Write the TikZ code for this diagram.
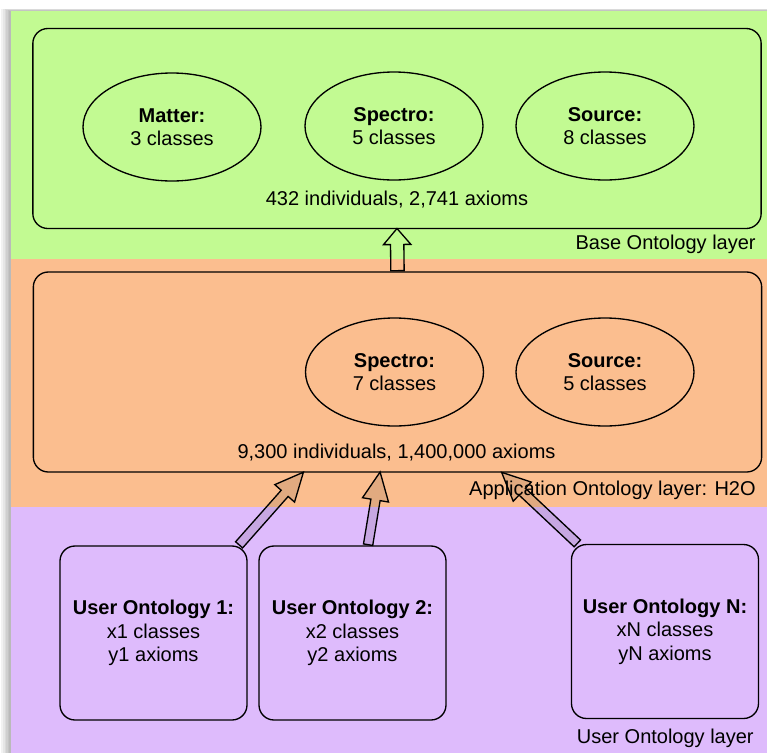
\documentclass[tikz,border=0pt]{standalone}
\usepackage{fontspec}
\setmainfont{Liberation Sans}
\usetikzlibrary{shapes.geometric,shapes.arrows,calc,positioning}

\definecolor{basegreen}{RGB}{194,250,146}
\definecolor{apporange}{RGB}{251,190,143}
\definecolor{userpurple}{RGB}{222,187,252}

% block arrow from #2 (tail) to #3 (tip)
\newcommand{\hollowarrow}[3]{%
    \path let \p1=($(#3)-(#2)$), \n1={atan2(\y1,\x1)}, \n2={veclen(\x1,\y1)} in
        node[#1, anchor=tail, rotate=\n1, minimum height=\n2] at (#2) {};}

\begin{document}
\begin{tikzpicture}[x=0.6pt, y=-0.6pt, font=\fontsize{12}{14}\selectfont]
    \tikzstyle{layerbox} = [draw, thick, rounded corners=9pt, minimum width=437pt, minimum height=120pt]
    \tikzstyle{partellipse} = [draw, thick, ellipse, minimum width=106.8pt, minimum height=64.8pt, align=center]
    \tikzstyle{userbox} = [draw, thick, rounded corners=9pt, minimum width=112.2pt, minimum height=104.4pt, align=center]
    \tikzstyle{layertag} = [anchor=base east, inner sep=0pt]
    \tikzstyle{uparrow} = [single arrow, draw, thick, inner sep=0pt, inner ysep=3.6pt, minimum width=15.6pt, single arrow head extend=4.2pt, single arrow tip angle=81]
    \tikzstyle{userarrow} = [single arrow, draw, thick, fill=black, fill opacity=0.1, inner sep=0pt, inner ysep=2.4pt, minimum width=15pt, single arrow head extend=5.1pt, single arrow tip angle=50]
    \useasboundingbox (0,0) rectangle (767,753);
    % shadow and bands
    \foreach \i in {1,...,6}
        \fill[black, opacity=0.05] (11-1.6*\i, 11-0.4*\i) rectangle (767,753);
    \fill[basegreen] (11,11) rectangle (767,259);
    \fill[apporange] (11,259) rectangle (767,507);
    \fill[userpurple] (11,507) rectangle (767,753);
    % base layer
    \node[layerbox] (base) at (397,128.5) {};
    \node[partellipse] (matter) at (172,127) {\textbf{Matter:}\\3 classes};
    \node[partellipse] (spectro) at (394,126) {\textbf{Spectro:}\\5 classes};
    \node[partellipse] (source) at (605,126) {\textbf{Source:}\\8 classes};
    \node[anchor=base] (basecount) at (397,205) {432 individuals, 2,741 axioms};
    \node[layertag] (basetag) at (756,249) {Base Ontology layer};
    % application layer
    \node[layerbox] (app) at (397.5,372) {};
    \node[partellipse] (appspectro) at (394.5,372) {\textbf{Spectro:}\\7 classes};
    \node[partellipse] (appsource) at (605,372) {\textbf{Source:}\\5 classes};
    \node[anchor=base] (appcount) at (396.5,458) {9,300 individuals, 1,400,000 axioms};
    \node[layertag] (apptag) at (756,495) {Application Ontology layer: H2O};
    % user layer
    \node[userbox] (uo1) at (153.5,633) {\textbf{User Ontology 1:}\\x1 classes\\y1 axioms};
    \node[userbox] (uo2) at (352.5,633) {\textbf{User Ontology 2:}\\x2 classes\\y2 axioms};
    \node[userbox] (uon) at (665,631.5) {\textbf{User Ontology N:}\\xN classes\\yN axioms};
    \node[layertag] (usertag) at (754,743) {User Ontology layer};
    % arrows
    \coordinate (tail1) at ($(uo1.north east)+(-9,0)$);
    \coordinate (tip1) at ($(app.south)+(-94.5,0)$);
    \coordinate (tail2) at ($(uo2.north)+(15.5,0)$);
    \coordinate (tip2) at ($(app.south)+(-17.5,0)$);
    \coordinate (tailn) at ($(uon.north west)+(7,0)$);
    \coordinate (tipn) at ($(app.south)+(104.5,0)$);
    \hollowarrow{uparrow}{app.north}{base.south}
    \hollowarrow{userarrow}{tail1}{tip1}
    \hollowarrow{userarrow}{tail2}{tip2}
    \hollowarrow{userarrow}{tailn}{tipn}
\end{tikzpicture}
\end{document}
